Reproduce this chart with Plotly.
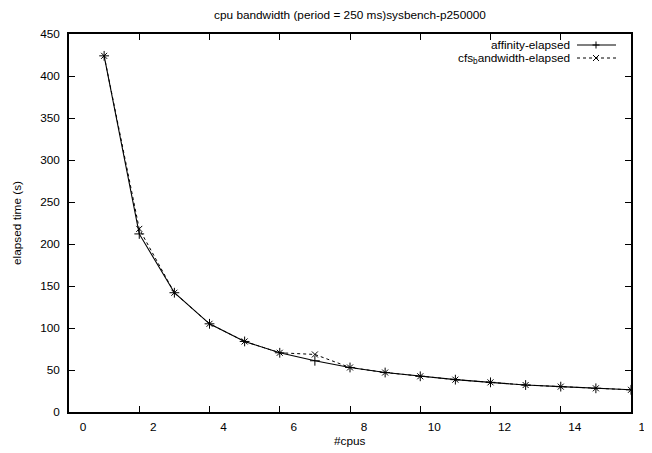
import plotly.graph_objects as go

cpus = [1, 2, 3, 4, 5, 6, 7, 8, 9, 10, 11, 12, 13, 14, 15, 16]
affinity_elapsed = [424, 212, 142, 105, 84, 70.5, 61, 53, 47, 42.5, 38.5, 35.3, 32.1, 30.2, 28.2, 26.4]
cfs_bandwidth_elapsed = [424, 218, 142, 105, 84, 70.5, 68.5, 53, 47, 42.5, 38.5, 35.3, 32.1, 30.2, 28.2, 26.4]
legend_labels = ["affinity-elapsed", "cfs<sub>b</sub>andwidth-elapsed"]
title_text = "cpu bandwidth (period = 250 ms)sysbench-p250000"
x_title = "#cpus"
y_title = "elapsed time (s)"

FONT = "Liberation Sans, Arial, Helvetica, sans-serif"
FS = 11.8
OFF = 8  # default page body margin
W, H = 652 - OFF, 453 - OFF
# plot area in page pixels: left 69, right 631, top 34, bottom 412
L = 69 - OFF
T = 34 - OFF
R = W - (631 - OFF)
B = H - (412 - OFF)

fig = go.Figure()
fig.add_trace(go.Scatter(
    x=cpus, y=affinity_elapsed, mode="lines+markers", name=legend_labels[0],
    line=dict(color="black", width=1.1),
    marker=dict(symbol="cross-thin", size=7, line=dict(color="black", width=1)),
    showlegend=False))
fig.add_trace(go.Scatter(
    x=cpus, y=cfs_bandwidth_elapsed, mode="lines+markers", name=legend_labels[1],
    line=dict(color="black", width=1, dash="3px,3px"),
    marker=dict(symbol="x-thin", size=6, line=dict(color="black", width=1)),
    showlegend=False))

pw = W - L - R
ph = H - T - B

def px(xp):
    return (xp - OFF - L) / pw

def py(yp):
    return (H - B - (yp - OFF)) / ph

shapes = []
annotations = []
rows = [(45, "solid", "plus"), (58, "dash", "x")]
for (yy, dash, mk), lab in zip(rows, legend_labels):
    annotations.append(dict(x=px(572), y=py(yy), xref="paper", yref="paper",
                            text=lab, showarrow=False, xanchor="right", yanchor="middle",
                            font=dict(family=FONT, size=FS, color="black")))
    shapes.append(dict(type="line", xref="paper", yref="paper",
                       x0=px(577), x1=px(616), y0=py(yy), y1=py(yy),
                       line=dict(color="black", width=1.1 if dash == "solid" else 1,
                                 dash="solid" if dash == "solid" else "3px,3px")))
    cx, cy = px(596), py(yy)
    if mk == "plus":
        segs = [(-3.5, 0, 3.5, 0), (0, -3.5, 0, 3.5)]
    else:
        segs = [(-3, -3, 3, 3), (-3, 3, 3, -3)]
    for a, b, c, d in segs:
        shapes.append(dict(type="line", xref="paper", yref="paper",
                           xsizemode="pixel", ysizemode="pixel", xanchor=cx, yanchor=cy,
                           x0=a, y0=b, x1=c, y1=d, line=dict(color="black", width=1)))

# x axis title placed below the tick labels
annotations.append(dict(x=0.5, y=py(441), xref="paper", yref="paper", text=x_title,
                        showarrow=False, xanchor="center", yanchor="middle",
                        font=dict(family=FONT, size=FS, color="black")))

axis_common = dict(showgrid=False, zeroline=False, showline=True, linecolor="black",
                   linewidth=1.5, mirror="allticks", ticks="inside", ticklen=6,
                   tickcolor="black", tickwidth=1, ticklabeloverflow="allow",
                   tickfont=dict(family=FONT, size=FS, color="black"))

fig.update_layout(
    width=W, height=H,
    margin=dict(l=L, r=R, t=T, b=B, autoexpand=False),
    paper_bgcolor="white", plot_bgcolor="white",
    font=dict(family=FONT, size=FS, color="black"),
    title=dict(text=title_text, x=0.5, xref="paper", y=1 - (15 - OFF) / H, yref="container",
               xanchor="center", yanchor="middle",
               font=dict(family=FONT, size=FS, color="black")),
    xaxis=dict(range=[0, 16], dtick=2, tick0=0, ticklabelshift=14, ticklabelstandoff=3,
               **axis_common),
    yaxis=dict(range=[0, 450], dtick=50, tick0=0, ticklabelstandoff=5,
               title=dict(text=y_title, standoff=16,
                          font=dict(family=FONT, size=FS, color="black")),
               **axis_common),
    shapes=shapes, annotations=annotations,
    showlegend=False,
)

fig.write_html("out.html")
